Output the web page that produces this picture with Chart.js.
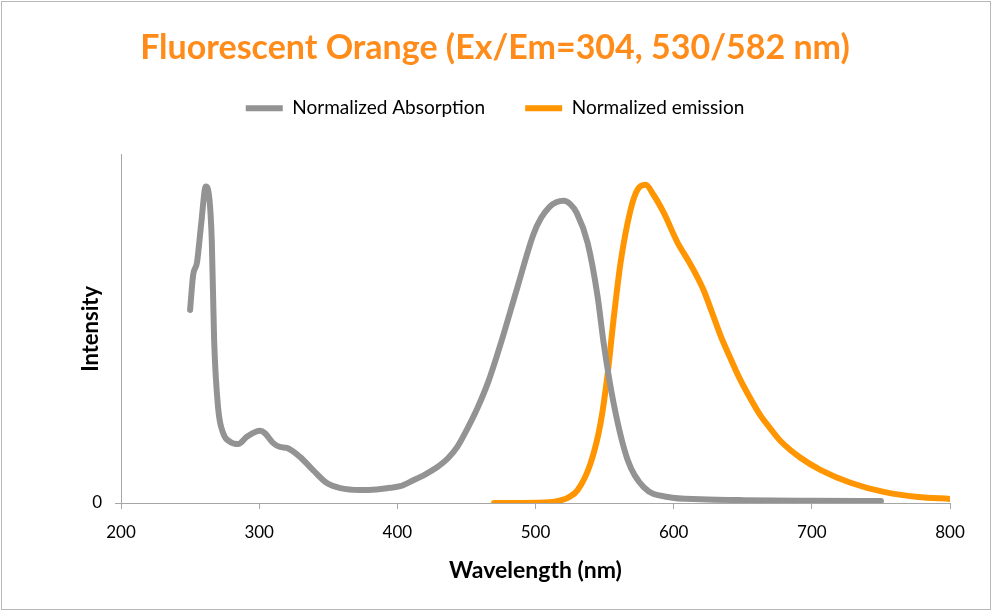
<!DOCTYPE html>
<html>
<head>
<meta charset="utf-8">
<script src="https://cdn.jsdelivr.net/npm/chart.js@4.4.1/dist/chart.umd.min.js"></script>
<style>
html,body{margin:0;padding:0;background:#fff;}
#wrap{width:992px;height:611px;position:relative;}
</style>
</head>
<body>
<div id="wrap"><canvas id="c" width="992" height="611"></canvas></div>
<script>
// Data
const absWavelength = [250,252.2,255,258,261.4,263,265.7,267.4,270.3,274,279,284.8,291.3,300.7,304.3,310,315,320,329.7,339,349,358.7,373,385,395,402,411.6,420,429,433,437,443.5,450.7,458,466,474.6,487,498.6,504,510,515,520.3,525,530,537.7,545,549.3,556.5,566.7,578.3,595.7,619.6,650,700,750];
const absValues     = [0.61,0.72,0.76,0.88,1.00,0.99,0.83,0.515,0.30,0.22,0.193,0.186,0.21,0.228,0.22,0.19,0.177,0.174,0.145,0.104,0.063,0.047,0.041,0.043,0.048,0.053,0.072,0.09,0.114,0.127,0.143,0.178,0.235,0.30,0.385,0.50,0.683,0.85,0.90,0.935,0.95,0.955,0.945,0.915,0.822,0.651,0.506,0.316,0.136,0.05,0.019,0.012,0.009,0.007,0.006];
const emWavelength  = [470,490,510,518,524,530.4,539.9,547,552,556.5,561.6,568.8,573.9,579.7,585.5,592.8,602.9,610,616,621.7,627.5,634,641.3,647,653.6,663,670,677.5,692,706.5,728,752,776.8,800];
const emValues      = [0,0,0.002,0.008,0.018,0.04,0.126,0.25,0.40,0.58,0.76,0.926,0.99,1.005,0.973,0.917,0.822,0.77,0.723,0.672,0.605,0.528,0.455,0.40,0.345,0.275,0.235,0.195,0.142,0.104,0.064,0.035,0.019,0.013];
const xTickValues = [200,300,400,500,600,700,800];
const yTickValues = [0];

const toXY = (xs, ys) => xs.map((x, i) => ({x: x, y: ys[i]}));
const FONT = "Lato, 'Open Sans', sans-serif";

const borderPlugin = {
  id: 'outerBorder',
  beforeDraw(chart) {
    const ctx = chart.ctx;
    ctx.save();
    ctx.fillStyle = '#ffffff';
    ctx.fillRect(0, 0, chart.width, chart.height);
    ctx.strokeStyle = '#b8b8b8';
    ctx.lineWidth = 1;
    ctx.strokeRect(1.5, 1.5, chart.width - 3, chart.height - 3);
    ctx.restore();
  }
};

new Chart(document.getElementById('c'), {
  type: 'line',
  data: {
    datasets: [
      {
        label: 'Normalized Absorption',
        data: toXY(absWavelength, absValues),
        xAxisID: 'x', yAxisID: 'y',
        borderColor: '#939393',
        backgroundColor: '#939393',
        borderWidth: 6,
        borderCapStyle: 'round',
        borderJoinStyle: 'round',
        pointRadius: 0,
        pointStyle: 'line',
        cubicInterpolationMode: 'monotone',
        fill: false
      },
      {
        label: 'Normalized emission',
        data: toXY(emWavelength, emValues),
        xAxisID: 'x', yAxisID: 'y',
        borderColor: '#ff9500',
        backgroundColor: '#ff9500',
        borderWidth: 6,
        borderCapStyle: 'round',
        borderJoinStyle: 'round',
        pointRadius: 0,
        pointStyle: 'line',
        cubicInterpolationMode: 'monotone',
        fill: false
      }
    ]
  },
  options: {
    responsive: false,
    animation: false,
    devicePixelRatio: 1,
    layout: { padding: { left: 40, right: 42, top: 0, bottom: 27 } },
    plugins: {
      title: {
        display: true,
        text: 'Fluorescent Orange (Ex/Em=304, 530/582 nm)',
        color: '#ff8c1a',
        font: { family: FONT, size: 34, weight: 'bold', lineHeight: 1.2 },
        padding: { top: 28, bottom: -10 }
      },
      legend: {
        display: true,
        position: 'top',
        labels: {
          usePointStyle: true,
          pointStyleWidth: 37,
          boxHeight: 6,
          color: '#000',
          font: { family: FONT, size: 19 },
          padding: 40
        }
      },
      tooltip: { enabled: false }
    },
    scales: {
      x: {
        type: 'linear',
        position: 'bottom',
        min: 200,
        max: 800,
        afterBuildTicks: (axis) => { axis.ticks = xTickValues.map(v => ({value: v})); },
        afterFit: (axis) => { axis.height = 81; },
        ticks: { color: '#000', font: { family: FONT, size: 17 }, padding: 13, maxRotation: 0 },
        grid: { display: true, drawOnChartArea: false, drawTicks: true, tickLength: 6, color: '#a6a6a6' },
        border: { display: true, color: '#a6a6a6', width: 1 },
        title: { display: true, text: 'Wavelength (nm)', color: '#000', font: { family: FONT, size: 23, weight: 'bold' }, padding: { top: 0, bottom: 0 } }
      },
      xTop: {
        type: 'linear',
        position: 'top',
        min: 0,
        max: 1,
        afterFit: (axis) => { axis.height = 27; },
        ticks: { display: false },
        grid: { display: false },
        border: { display: false },
        title: { display: false }
      },
      y: {
        min: 0,
        max: 1.1,
        afterBuildTicks: (axis) => { axis.ticks = yTickValues.map(v => ({value: v})); },
        afterFit: (axis) => { axis.width = 81; },
        ticks: { color: '#000', font: { family: FONT, size: 17 }, padding: 13 },
        grid: { display: true, drawOnChartArea: false, drawTicks: true, tickLength: 6, color: '#a6a6a6' },
        border: { display: true, color: '#a6a6a6', width: 1 },
        title: { display: true, text: 'Intensity', color: '#000', font: { family: FONT, size: 22, weight: 'bold' }, padding: { top: 38, bottom: 0 } }
      }
    }
  },
  plugins: [borderPlugin]
});
</script>
</body>
</html>
